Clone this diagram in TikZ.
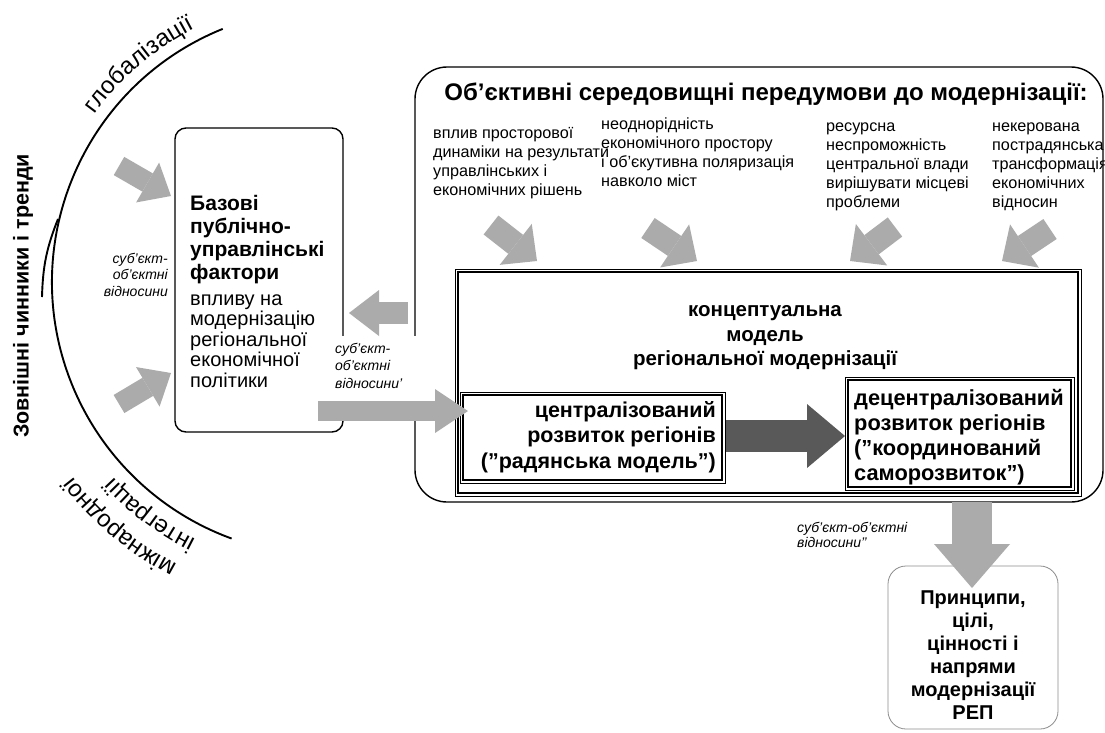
\documentclass[tikz,border=0pt]{standalone}
\usepackage{fontspec}
\setmainfont{Liberation Sans}
\usetikzlibrary{arrows.meta,decorations.text}
\definecolor{lgray}{HTML}{ABABAB}
\definecolor{dgray}{HTML}{595959}
\definecolor{pgray}{HTML}{8C8C8C}
\newcommand\firstln{\rule{0pt}{0.8em}}
\newcommand\arcfont{\fontsize{24}{24}\selectfont}
\begin{document}
\begin{tikzpicture}[x=1pt,y=1pt,
  fatarrow/.style n args={4}{draw=#1, line width=#2, -{Triangle[width=#3,length=#4,line width=0pt]}},
  box/.style={draw, line width=1.4pt, inner sep=0pt},
  dblbox/.style={draw, line width=1pt, inner sep=0pt},
  coltxt/.style={inner sep=0pt, font=\fontsize{16.2}{19}\selectfont, align=left, anchor=north west},
  lbl/.style={inner sep=0pt, font=\fontsize{14}{17}\selectfont\itshape},
  bld/.style={inner sep=0pt, font=\fontsize{20}{24}\selectfont\bfseries}]
\clip (0,0) rectangle (1105,-732);
\fill[white] (0,0) rectangle (1105,-732);

% outer arc and short arc
\draw[line width=1.9pt] (325,-282) ++(112:273pt) arc[start angle=112, end angle=250, radius=273pt];
\draw[line width=1.9pt] (58,-219) to[bend right=10] (42,-297);

% texts around arc
\node[rotate=90, font=\fontsize{21.5}{21.5}\selectfont\bfseries, inner sep=0pt] (ext) at (23,-296) {Зовнішні чинники і тренди};
\path[decorate, decoration={text along path, text align=center, text={|\arcfont|глобалізації}}]
  (325,-282) ++(155.6:285pt) arc[start angle=155.6, end angle=105.6, radius=285pt];
\path[decorate, decoration={text along path, text align=center, text={|\arcfont|міжнародної}}]
  (325,-282) ++(255:319pt) arc[start angle=255, end angle=205, radius=319pt];
\path[decorate, decoration={text along path, text align=center, text={|\arcfont|інтеграції}}]
  (325,-282) ++(258:288pt) arc[start angle=258, end angle=208, radius=288pt];

% boxes
\node[box, rounded corners=32pt, minimum width=688pt, minimum height=435pt] (env) at (759,-284.5) {};
\node[box, rounded corners=11pt, minimum width=168pt, minimum height=304pt] (base) at (259,-280) {};
\node[dblbox, minimum width=626pt, minimum height=227pt] (concept) at (768,-382.5) {};
\draw[line width=1.8pt] ([shift={(3.5,-3.5)}]concept.north west) rectangle ([shift={(-3.5,3.5)}]concept.south east);
\node[dblbox, minimum width=265pt, minimum height=91pt] (central) at (592.5,-437.5) {};
\draw[line width=1.8pt] ([shift={(3.5,-3.5)}]central.north west) rectangle ([shift={(-3.5,3.5)}]central.south east);
\node[dblbox, minimum width=229pt, minimum height=113pt] (decentral) at (959.5,-433.5) {};
\draw[line width=1.8pt] ([shift={(3.5,-3.5)}]decentral.north west) rectangle ([shift={(-3.5,3.5)}]decentral.south east);
\node[draw=pgray, line width=0.8pt, rounded corners=18pt, minimum width=170pt, minimum height=163pt] (princ) at (973,-647.5) {};

% gap in the borders behind the label
\fill[white] (333,-336) rectangle (419,-401);

% texts
\node[font=\fontsize{24}{28}\selectfont\bfseries, inner sep=0pt, anchor=base] (title) at (766,-100) {Об’єктивні середовищні передумови до модернізації:};
\node[coltxt] (c1) at (433,-125.5) {\firstln вплив просторової\\динаміки на результати\\управлінських і\\економічних рішень};
\node[coltxt] (c2) at (601,-116) {\firstln неоднорідність\\економічного простору\\і об’єкутивна поляризація\\навколо міст};
\node[coltxt] (c3) at (826,-118) {\firstln ресурсна\\неспроможність\\центральної влади\\вирішувати місцеві\\проблеми};
\node[coltxt] (c4) at (992,-118) {\firstln некерована\\пострадянська\\трансформація\\економічних\\відносин};

\node[bld, font=\fontsize{20.5}{24.5}\selectfont\bfseries, align=center, anchor=north] (ctitle) at (765,-300) {\firstln концептуальна\\модель\\регіональної модернізації};
\node[bld, font=\fontsize{21.5}{25.5}\selectfont\bfseries, align=right, anchor=north east] (ctxt) at (716,-399.8) {\firstln централізований\\розвиток регіонів\\(”радянська модель”)};
\node[bld, font=\fontsize{21.8}{25}\selectfont\bfseries, align=left, anchor=north west] (dtxt) at (854,-387.6) {\firstln децентралізований\\розвиток регіонів\\(”координований\\саморозвиток”)};
\node[bld, font=\fontsize{20}{23}\selectfont\bfseries, align=center, anchor=north] (ptxt) at (973,-588) {\firstln Принципи,\\цілі,\\цінності і\\напрями\\модернізації\\РЕП};

\node[bld, font=\fontsize{21}{23}\selectfont\bfseries, align=left, anchor=north west] (btxt) at (190,-193.2) {\firstln Базові\\публічно-\\управлінські\\фактори};
\node[inner sep=0pt, font=\fontsize{20}{20.5}\selectfont, align=left, anchor=north west] (rtxt) at (190,-289) {\firstln впливу на\\модернізацію\\регіональної\\економічної\\політики};

\node[lbl, font=\fontsize{14}{16.5}\selectfont\itshape, align=right, anchor=north east] (lblL) at (168,-251.8) {\firstln суб’єкт-\\об’єктні\\відносини};
\node[lbl, font=\fontsize{14}{17.5}\selectfont\itshape, align=left, anchor=north west] (lblR) at (335,-341.8) {\firstln суб’єкт-\\об’єктні\\відносини’};
\node[lbl, font=\fontsize{14}{15.5}\selectfont\itshape, align=left, anchor=north west] (lblD) at (797,-520.8) {\firstln суб’єкт-об’єктні\\відносини’’};

% arrow end points
\coordinate (a1s) at (119,-166); \coordinate (a1e) at (171,-196);
\coordinate (a2s) at (119,-404); \coordinate (a2e) at (171,-373);
\coordinate (a3s) at (408,-313); \coordinate (a3e) at (349,-313);
\coordinate (a4s) at (318,-411); \coordinate (a4e) at (468,-411);
\coordinate (t1s) at (491,-225); \coordinate (t1e) at (537,-261);
\coordinate (t2s) at (648,-228); \coordinate (t2e) at (697,-261);
\coordinate (t3s) at (895,-227); \coordinate (t3e) at (850,-261);
\coordinate (t4s) at (1050,-229); \coordinate (t4e) at (1002,-261);
\coordinate (ds) at (972,-502); \coordinate (de) at (972,-588);
\coordinate (ks) at (726,-436); \coordinate (ke) at (845,-436);

\draw[fatarrow={lgray}{21pt}{46pt}{27pt}] (a1s) -- (a1e);
\draw[fatarrow={lgray}{21pt}{46pt}{27pt}] (a2s) -- (a2e);
\draw[fatarrow={lgray}{22pt}{46pt}{30pt}] (a3s) -- (a3e);
\draw[fatarrow={lgray}{20pt}{44pt}{33pt}] (a4s) -- (a4e);
\draw[fatarrow={lgray}{24pt}{52pt}{27pt}] (t1s) -- (t1e);
\draw[fatarrow={lgray}{24pt}{52pt}{27pt}] (t2s) -- (t2e);
\draw[fatarrow={lgray}{24pt}{52pt}{27pt}] (t3s) -- (t3e);
\draw[fatarrow={lgray}{24pt}{52pt}{27pt}] (t4s) -- (t4e);
\draw[fatarrow={lgray}{40pt}{76pt}{44pt}] (ds) -- (de);
\draw[fatarrow={dgray}{32pt}{64pt}{38pt}] (ks) -- (ke);
\end{tikzpicture}
\end{document}
